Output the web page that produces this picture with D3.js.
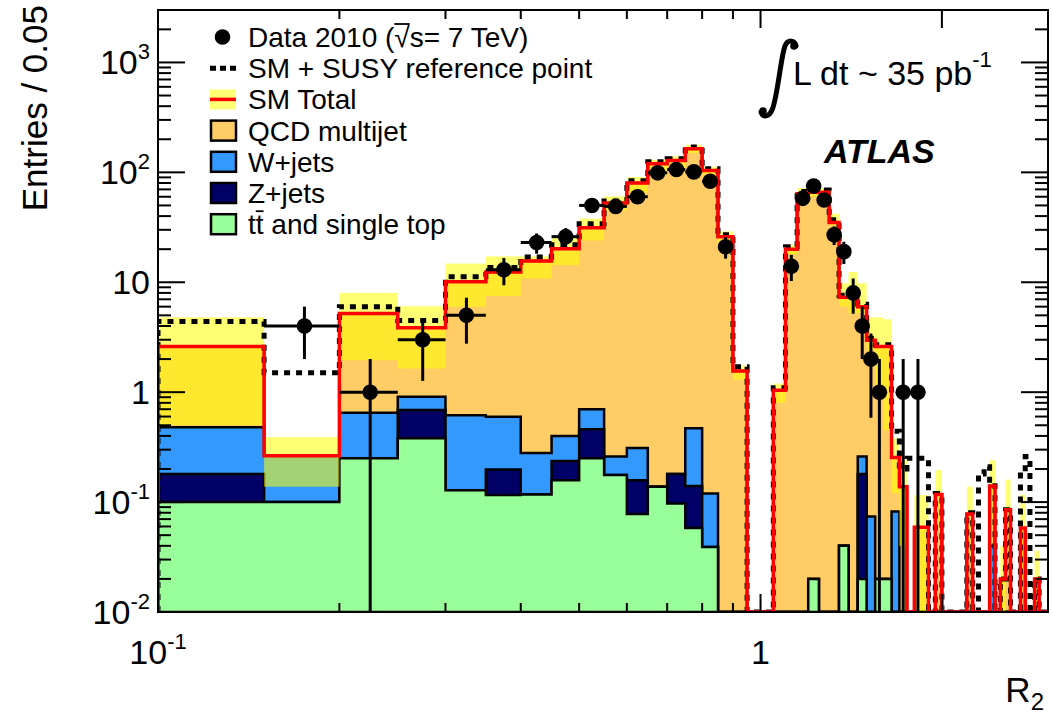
<!DOCTYPE html>
<html>
<head>
<meta charset="utf-8">
<script src="https://cdn.jsdelivr.net/npm/d3@7"></script>
<style>
  body { margin: 0; background: #fff; }
  text { font-family: "Liberation Sans", Arial, Helvetica, sans-serif; fill: #000; }
</style>
</head>
<body>
<svg id="chart"></svg>
<script>
// bins of width 0.05 from 0.10 to 3.00
const binEdges = d3.range(59).map(i => +(0.1 + 0.05 * i).toFixed(2));

// per-bin contributions
const ttbar = [0.1, 0.1, 0.25, 0.38, 0.128, 0.116, 0.117, 0.158, 0.25, 0.176,
  0.078, 0.138, 0.097, 0.058, 0.039, 0, 0, 0, 0, 0,
  0, 0, 0.02, 0, 0, 0.04, 0, 0.02, 0, 0.02,
  0.02, 0, 0, 0, 0, 0, 0, 0, 0, 0,
  0, 0, 0, 0, 0, 0, 0, 0, 0, 0,
  0, 0, 0, 0, 0, 0, 0, 0];
const zjets = [0.08, 0, 0, 0.31, 0, 0.082, 0, 0.079, 0.21, 0,
  0.08, 0, 0.083, 0.082, 0, 0, 0, 0, 0, 0,
  0, 0, 0, 0, 0, 0, 0, 0.16, 0, 0,
  0, 0, 0, 0, 0, 0, 0, 0, 0, 0,
  0, 0, 0, 0, 0, 0, 0, 0, 0, 0,
  0, 0, 0, 0, 0, 0, 0, 0];
const wjets = [0.30, 0.164, 0.40, 0.22, 0.49, 0.40, 0.163, 0.163, 0.24, 0.084,
  0.152, 0, 0, 0.33, 0.081, 0, 0, 0, 0, 0,
  0, 0, 0, 0, 0, 0, 0, 0.08, 0.074, 0,
  0, 0.082, 0, 0, 0, 0, 0, 0, 0, 0,
  0, 0, 0, 0, 0, 0, 0.04, 0, 0, 0,
  0, 0, 0, 0, 0, 0, 0, 0];
const qcd = [2.12, 0, 4.55, 2.94, 9.48, 11.8, 15.3, 19.8, 30.7, 52.3,
  79.7, 119.9, 127.8, 163.5, 103.9, 26, 1.56, 0, 0, 1.04,
  20, 64, 66, 66, 35, 7.26, 7.3, 5.74, 2.9, 2.58,
  2.58, 0.173, 0.138, 0, 0.059, 0.059, 0, 0.117, 0, 0,
  0, 0, 0.078, 0, 0, 0, 0.10, 0, 0.02, 0.085,
  0, 0, 0.058, 0, 0, 0.02, 0, 0];
const susy = [4.4, 1.5, 6.0, 4.5, 11.2, 13.6, 17, 22, 34, 55,
  84, 125, 133, 170, 108, 27, 1.7, 0, 0, 1.1,
  21, 67, 69, 69, 37, 7.6, 7.6, 6.3, 3.1, 2.7,
  2.7, 0.44, 0.2, 0.25, 0.25, 0.25, 0, 0.12, 0, 0,
  0, 0, 0.08, 0, 0.18, 0.21, 0.15, 0, 0.02, 0.085,
  0, 0, 0.19, 0.26, 0, 0.02, 0, 0];
const bandLo = [0.5, 0.138, 1.95, 1.64, 5.96, 7.5, 10.8, 14.3, 24, 45,
  66, 94, 110, 150, 95, 22, 1.3, 0, 0, 0.8,
  18, 60, 60, 60, 33, 6, 5.2, 5.2, 2.4, 1.0,
  0.45, 0.12, 0.04, 0, 0.01, 0.01, 0, 0.06, 0, 0,
  0, 0, 0.03, 0, 0, 0, 0.06, 0, 0.005, 0.03,
  0, 0, 0.02, 0, 0, 0.005, 0, 0];
const bandHi = [4.8, 0.39, 8.0, 6.05, 14.8, 17.2, 17.2, 25.5, 38, 60.5,
  90.7, 130, 140, 178, 112, 29, 1.75, 0, 0, 1.2,
  22, 72, 72, 72, 42, 9.8, 12.4, 9.8, 4.8, 4.8,
  4.6, 0.38, 0.24, 0, 0.116, 0.116, 0, 0.195, 0, 0,
  0, 0, 0.138, 0, 0, 0, 0.24, 0, 0.04, 0.16,
  0, 0, 0.116, 0, 0, 0.036, 0, 0];
const dataCounts = [0, 4, 1, 3, 5, 13, 23, 26, 50, 49,
  60, 99, 106, 101, 83, 21, 0, 0, 0, 0,
  14, 58, 75, 56, 27, 19, 8, 4, 2, 1,
  0, 0, 1, 0, 1, 0, 0, 0, 0, 0,
  0, 0, 0, 0, 0, 0, 0, 0, 0, 0,
  0, 0, 0, 0, 0, 0, 0, 0];

const yTickValues = [0.01, 0.1, 1, 10, 100, 1000];
const yTickLabels = [["10", "-2"], ["10", "-1"], ["1", ""], ["10", ""], ["10", "2"], ["10", "3"]];
const xTickValues = [0.1, 1];
const xTickLabels = [["10", "-1"], ["1", ""]];

const legendEntries = [
  { label: "Data 2010", kind: "data" },
  { label: "SM + SUSY reference point", kind: "susy" },
  { label: "SM Total", kind: "total" },
  { label: "QCD multijet", kind: "box", color: "#ffcc66" },
  { label: "W+jets", kind: "box", color: "#3399ff" },
  { label: "Z+jets", kind: "box", color: "#000066" },
  { label: "tt", kind: "box", color: "#99ff99" }
];

const width = 1052, height = 717;
const plot = { left: 158, right: 1048, top: 10, bottom: 612 };

const svg = d3.select("#chart")
    .attr("width", width)
    .attr("height", height);

const x = d3.scaleLog().domain([0.1, 3]).range([plot.left, plot.right]);
const y = d3.scaleLog().domain([0.01, 3000]).range([plot.bottom, plot.top]);
const yv = v => y(Math.max(v, 0.01));

const defs = svg.append("defs");
defs.append("clipPath").attr("id", "clip")
  .append("rect")
    .attr("x", plot.left).attr("y", plot.top)
    .attr("width", plot.right - plot.left).attr("height", plot.bottom - plot.top);

const bandFill = "#ffff00", bandOpacity = 0.55;

const g = svg.append("g").attr("clip-path", "url(#clip)");

const nb = qcd.length;
const cumT = ttbar.slice();
const cumZ = cumT.map((v, i) => v + zjets[i]);
const cumW = cumZ.map((v, i) => v + wjets[i]);
const total = cumW.map((v, i) => v + qcd[i]);

function stepPoints(vals) {
  const pts = [[x(binEdges[0]), plot.bottom]];
  vals.forEach((v, i) => {
    pts.push([x(binEdges[i]), yv(v)], [x(binEdges[i + 1]), yv(v)]);
  });
  pts.push([x(binEdges[nb]), plot.bottom]);
  return pts;
}
const line = d3.line();

// stacked histograms, drawn from the top of the stack down
[[total, "#ffcc66"], [cumW, "#3399ff"], [cumZ, "#000066"], [cumT, "#99ff99"]].forEach(([vals, col]) => {
  g.append("path")
      .attr("d", line(stepPoints(vals)) + "Z")
      .attr("fill", col)
      .attr("stroke", "#000")
      .attr("stroke-width", 2.5);
});

// uncertainty band
g.selectAll(".band")
  .data(d3.range(nb).filter(i => bandHi[i] > 0))
  .enter().append("rect")
    .attr("class", "band")
    .attr("x", i => x(binEdges[i]))
    .attr("width", i => x(binEdges[i + 1]) - x(binEdges[i]))
    .attr("y", i => yv(bandHi[i]))
    .attr("height", i => yv(bandLo[i]) - yv(bandHi[i]))
    .attr("fill", bandFill)
    .attr("fill-opacity", bandOpacity);

// SM + SUSY
g.append("path")
    .attr("d", line(stepPoints(susy)))
    .attr("fill", "none")
    .attr("stroke", "#000")
    .attr("stroke-width", 5)
    .attr("stroke-dasharray", "6,6");

// SM total
g.append("path")
    .attr("d", line(stepPoints(total)))
    .attr("fill", "none")
    .attr("stroke", "#ff0000")
    .attr("stroke-width", 3.5);

// data
const pts = d3.range(nb).filter(i => dataCounts[i] > 0);
const dg = g.selectAll(".pt").data(pts).enter().append("g").attr("class", "pt");
dg.append("line")
    .attr("x1", i => x(binEdges[i])).attr("x2", i => x(binEdges[i + 1]))
    .attr("y1", i => yv(dataCounts[i])).attr("y2", i => yv(dataCounts[i]))
    .attr("stroke", "#000").attr("stroke-width", 3);
dg.append("line")
    .attr("x1", i => x((binEdges[i] + binEdges[i + 1]) / 2))
    .attr("x2", i => x((binEdges[i] + binEdges[i + 1]) / 2))
    .attr("y1", i => yv(dataCounts[i] + Math.sqrt(dataCounts[i])))
    .attr("y2", i => y(Math.max(dataCounts[i] - Math.sqrt(dataCounts[i]), 0.001)))
    .attr("stroke", "#000").attr("stroke-width", 3);
dg.append("circle")
    .attr("cx", i => x((binEdges[i] + binEdges[i + 1]) / 2))
    .attr("cy", i => yv(dataCounts[i]))
    .attr("r", 7.8)
    .attr("fill", "#000");

// frame and ticks
const axes = svg.append("g");
axes.append("rect")
    .attr("x", plot.left).attr("y", plot.top)
    .attr("width", plot.right - plot.left).attr("height", plot.bottom - plot.top)
    .attr("fill", "none").attr("stroke", "#000").attr("stroke-width", 2);

const isDecade = v => Math.abs(Math.log10(v) - Math.round(Math.log10(v))) < 1e-6;
y.ticks().forEach(v => {
  const len = isDecade(v) ? 27 : 13;
  const yy = y(v);
  axes.append("line").attr("x1", plot.left).attr("x2", plot.left + len).attr("y1", yy).attr("y2", yy)
      .attr("stroke", "#000").attr("stroke-width", 2);
  axes.append("line").attr("x1", plot.right - len).attr("x2", plot.right).attr("y1", yy).attr("y2", yy)
      .attr("stroke", "#000").attr("stroke-width", 2);
});
x.ticks().forEach(v => {
  const len = (isDecade(v) || v >= 2) ? 18 : 9;
  const xx = x(v);
  axes.append("line").attr("x1", xx).attr("x2", xx).attr("y1", plot.bottom).attr("y2", plot.bottom - len)
      .attr("stroke", "#000").attr("stroke-width", 2);
  axes.append("line").attr("x1", xx).attr("x2", xx).attr("y1", plot.top).attr("y2", plot.top + len)
      .attr("stroke", "#000").attr("stroke-width", 2);
});

// tick labels
yTickValues.forEach((v, i) => {
  const t = axes.append("text")
      .attr("x", plot.left - 8).attr("y", y(v) + 12)
      .attr("text-anchor", "end").attr("font-size", 34);
  t.append("tspan").text(yTickLabels[i][0]);
  if (yTickLabels[i][1]) t.append("tspan").attr("dy", -15).attr("font-size", 22).text(yTickLabels[i][1]);
});
xTickValues.forEach((v, i) => {
  const t = axes.append("text")
      .attr("x", x(v)).attr("y", 664)
      .attr("text-anchor", "middle").attr("font-size", 34);
  t.append("tspan").text(xTickLabels[i][0]);
  if (xTickLabels[i][1]) t.append("tspan").attr("dy", -15).attr("font-size", 22).text(xTickLabels[i][1]);
});

// axis titles
const xt = axes.append("text").attr("x", 1044).attr("y", 702).attr("text-anchor", "end").attr("font-size", 35);
xt.append("tspan").text("R");
xt.append("tspan").attr("dy", 8).attr("font-size", 24).text("2");
axes.append("text")
    .attr("transform", "translate(47,5) rotate(-90)")
    .attr("text-anchor", "end")
    .attr("font-size", 35)
    .text("Entries / 0.05");

// annotations: integral sign drawn as a stroke with ball ends
const integral = axes.append("g").attr("transform", "translate(760,40)");
integral.append("path")
    .attr("d", "M36,6 C35,0 28,-1 25,6 C21,16 17,60 12,70 C9,77 3,78 1,72")
    .attr("fill", "none").attr("stroke", "#000").attr("stroke-width", 5).attr("stroke-linecap", "round");
integral.append("circle").attr("cx", 34).attr("cy", 6).attr("r", 3.8).attr("fill", "#000");
integral.append("circle").attr("cx", 3).attr("cy", 71).attr("r", 3.8).attr("fill", "#000");
const lum = axes.append("text").attr("x", 793).attr("y", 85).attr("font-size", 34);
lum.append("tspan").text("L dt ~ 35 pb");
lum.append("tspan").attr("dy", -18).attr("font-size", 22).text("-1");
axes.append("text").attr("x", 824).attr("y", 163)
    .attr("font-size", 34).attr("font-weight", "bold").attr("font-style", "italic")
    .text("ATLAS");

// overline drawn over characters [a, b) of a text element
function overline(textSel, a, b, yy) {
  const node = textSel.node();
  const x1 = node.getStartPositionOfChar(a).x;
  const x2 = node.getEndPositionOfChar(b - 1).x;
  leg.append("line").attr("x1", x1).attr("x2", x2).attr("y1", yy).attr("y2", yy)
      .attr("stroke", "#000").attr("stroke-width", 1.8);
}

// legend
const leg = svg.append("g");
legendEntries.forEach((e, i) => {
  const cy = 37 + i * 31.2;
  if (e.kind === "data") {
    leg.append("circle").attr("cx", 222.5).attr("cy", cy).attr("r", 7.8).attr("fill", "#000");
  } else if (e.kind === "susy") {
    leg.append("line").attr("x1", 210).attr("x2", 236).attr("y1", cy).attr("y2", cy)
        .attr("stroke", "#000").attr("stroke-width", 5).attr("stroke-dasharray", "6,4");
  } else if (e.kind === "total") {
    leg.append("rect").attr("x", 210).attr("y", cy - 10).attr("width", 26).attr("height", 20)
        .attr("fill", bandFill).attr("fill-opacity", bandOpacity);
    leg.append("line").attr("x1", 210).attr("x2", 236).attr("y1", cy).attr("y2", cy)
        .attr("stroke", "#ff0000").attr("stroke-width", 3.5);
  } else {
    leg.append("rect").attr("x", 211).attr("y", cy - 10).attr("width", 25).attr("height", 20)
        .attr("fill", e.color).attr("stroke", "#000").attr("stroke-width", 2.5);
  }
  const t = leg.append("text").attr("x", 248).attr("y", cy + 10).attr("font-size", 28);
  if (e.kind === "data") {
    t.text(e.label + " (\u221As= 7 TeV)");
    const k = e.label.length + 2;
    overline(t, k, k + 1, cy + 10 - 23);
  } else if (e.label === "tt") {
    t.text("tt and single top");
    overline(t, 1, 2, cy + 10 - 23);
  } else {
    t.text(e.label);
  }
});
</script>
</body>
</html>
